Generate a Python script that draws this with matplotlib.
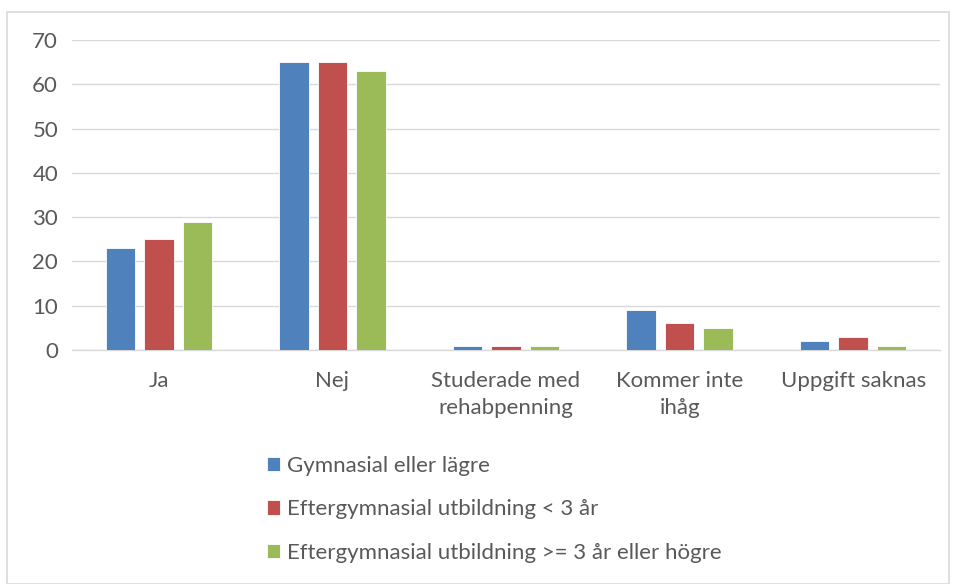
import matplotlib
matplotlib.use("Agg")
import matplotlib.pyplot as plt
from matplotlib.patches import Rectangle
import numpy as np

categories = ["Ja", "Nej", "Studerade med\nrehabpenning", "Kommer inte\nihåg", "Uppgift saknas"]
series_names = ["Gymnasial eller lägre",
                "Eftergymnasial utbildning < 3 år",
                "Eftergymnasial utbildning >= 3 år eller högre"]
gymnasial = [23, 65, 1, 9, 2]
efter_lt3 = [25, 65, 1, 6, 3]
efter_ge3 = [29, 63, 1, 5, 1]
yticks = [0, 10, 20, 30, 40, 50, 60, 70]

colors = ["#4F81BD", "#C0504D", "#9BBB59"]
text_color = "#595959"

plt.rcParams['font.family'] = ['Lato', 'DejaVu Sans']

fig = plt.figure(figsize=(9.55, 5.84), dpi=100)
ax = fig.add_axes([72/955, 1-350/584, (940-72)/955, (350-40)/584])

x = np.arange(len(categories))
width = 0.17
offset = 0.222
for i, (vals, name) in enumerate(zip([gymnasial, efter_lt3, efter_ge3], series_names)):
    ax.bar(x + (i-1)*offset, vals, width, color=colors[i], label=name,
           edgecolor="white", linewidth=0.6, zorder=3)

ax.set_xlim(-0.5, len(categories)-0.5)
ax.set_ylim(0, 70)
ax.set_yticks(yticks)
ax.set_xticks(x)
ax.set_xticklabels(categories, fontsize=16, color=text_color, linespacing=1.45)
ax.tick_params(axis='y', labelsize=16, labelcolor=text_color, length=0, pad=10)
ax.tick_params(axis='x', length=0, pad=15)
ax.grid(axis='y', color="#D9D9D9", linewidth=1, zorder=0)
for s in ["top", "right", "left"]:
    ax.spines[s].set_visible(False)
ax.spines["bottom"].set_color("#D9D9D9")
ax.spines["bottom"].set_linewidth(1)

handles, labels = ax.get_legend_handles_labels()
leg = fig.legend(handles, labels, loc="upper left", bbox_to_anchor=(247/955, 1-436/584),
                 frameon=False, fontsize=16, labelcolor=text_color,
                 handlelength=0.6, handleheight=0.6, handletextpad=0.3,
                 labelspacing=1.05)

fig.patches.append(Rectangle((7/955, 0), (949-7)/955, 1-12/584, transform=fig.transFigure,
                             fill=False, edgecolor="#D9D9D9", linewidth=1.2))

fig.savefig("out.png", dpi=100)
